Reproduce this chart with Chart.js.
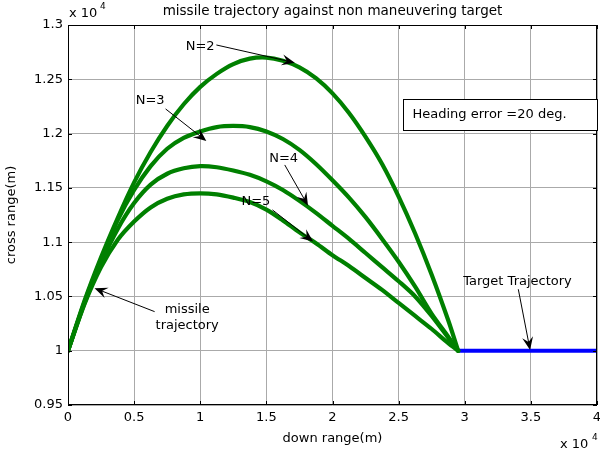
<!DOCTYPE html>
<html><head><meta charset="utf-8">
<script src="https://cdn.jsdelivr.net/npm/chart.js@4.4.0/dist/chart.umd.min.js"></script>
<style>html,body{margin:0;padding:0;background:#fff;}#wrap{width:600px;height:454px;}</style>
</head><body><div id="wrap"><canvas id="c" width="600" height="454"></canvas></div>
<script>
// ---- data (down range and cross range in units of 1e4 m) ----
const downRange = [0, 0.125, 0.25, 0.375, 0.5, 0.625, 0.75, 0.875, 1.0, 1.125, 1.25, 1.375, 1.5,
                   1.625, 1.75, 1.875, 2.0, 2.125, 2.25, 2.375, 2.5, 2.625, 2.75, 2.875, 2.95];
const crossN2 = [1.000, 1.046, 1.086, 1.122, 1.155, 1.183, 1.207, 1.227, 1.243, 1.255, 1.264, 1.269, 1.270,
                 1.267, 1.261, 1.251, 1.237, 1.219, 1.197, 1.172, 1.142, 1.108, 1.070, 1.028, 1.000];
const crossN3 = [1.000, 1.045, 1.084, 1.120, 1.148, 1.170, 1.186, 1.196, 1.202, 1.206, 1.207, 1.206, 1.202,
                 1.195, 1.185, 1.172, 1.157, 1.141, 1.123, 1.103, 1.082, 1.059, 1.034, 1.013, 1.000];
const crossN4 = [1.000, 1.044, 1.081, 1.112, 1.136, 1.153, 1.163, 1.168, 1.170, 1.169, 1.166, 1.162, 1.156,
                 1.148, 1.138, 1.127, 1.115, 1.103, 1.090, 1.077, 1.064, 1.050, 1.032, 1.012, 1.000];
const crossN5 = [1.000, 1.043, 1.077, 1.102, 1.119, 1.132, 1.140, 1.144, 1.145, 1.144, 1.141, 1.137, 1.130,
                 1.120, 1.109, 1.099, 1.088, 1.078, 1.067, 1.056, 1.044, 1.032, 1.020, 1.007, 1.000];
const targetDown = [2.95, 4.0];
const targetCross = [1.0, 1.0];

const xTickValues = [0, 0.5, 1, 1.5, 2, 2.5, 3, 3.5, 4];
const xTickLabels = ['0', '0.5', '1', '1.5', '2', '2.5', '3', '3.5', '4'];
const yTickValues = [0.95, 1.0, 1.05, 1.1, 1.15, 1.2, 1.25, 1.3];
const yTickLabels = ['0.95', '1', '1.05', '1.1', '1.15', '1.2', '1.25', '1.3'];

// annotation texts (data coordinates) and arrows
const noteTexts = ['N=2', 'N=3', 'N=4', 'N=5', 'missile', 'trajectory', 'Target Trajectory'];
const noteX = [0.999, 0.621, 1.631, 1.421, 0.901, 0.901, 3.399];
const noteY = [1.280, 1.230, 1.1773, 1.1373, 1.0376, 1.0228, 1.0636];
const arrowFrom = [[1.122, 1.2816], [0.738, 1.2227], [1.639, 1.1711], [1.546, 1.1297], [0.655, 1.0360], [3.405, 1.0566]];
const arrowTo = [[1.715, 1.2653], [1.046, 1.1932], [1.815, 1.1336], [1.853, 1.1005], [0.2006, 1.0576], [3.494, 1.0007]];
const boxText = 'Heading error =20 deg.';
const boxCorners = [[2.535, 1.2316], [3.999, 1.2033]];

const F = "'DejaVu Sans', sans-serif";
const pts = (xs, ys) => xs.map((v, i) => ({x: v, y: ys[i]}));
const green = 'rgb(0,128,0)';
const curve = (d) => ({data: d, showLine: true, borderColor: green, borderWidth: 4.2, pointRadius: 0, fill: false, tension: 0.3, borderCapStyle: 'round', borderJoinStyle: 'round'});

const overlay = {
  id: 'overlay',
  afterDatasetsDraw(chart) {
    const {ctx, chartArea: a, scales: {x, y}} = chart;
    ctx.save();
    // frame
    ctx.strokeStyle = '#000'; ctx.lineWidth = 1;
    ctx.strokeRect(Math.round(a.left) + 0.5, Math.round(a.top) + 0.5, Math.round(a.right - a.left) - 1, Math.round(a.bottom - a.top) - 1);
    // inward ticks
    ctx.beginPath();
    xTickValues.forEach(v => { const px = Math.round(x.getPixelForValue(v)) + 0.5;
      ctx.moveTo(px, a.bottom); ctx.lineTo(px, a.bottom - 4); ctx.moveTo(px, a.top); ctx.lineTo(px, a.top + 4); });
    yTickValues.forEach(v => { const py = Math.round(y.getPixelForValue(v)) + 0.5;
      ctx.moveTo(a.left, py); ctx.lineTo(a.left + 4, py); ctx.moveTo(a.right, py); ctx.lineTo(a.right - 4, py); });
    ctx.stroke();
    // annotation texts
    ctx.fillStyle = '#000'; ctx.font = '13px ' + F; ctx.textAlign = 'center'; ctx.textBaseline = 'middle';
    noteTexts.forEach((t, i) => ctx.fillText(t, x.getPixelForValue(noteX[i]), y.getPixelForValue(noteY[i])));
    // arrows
    arrowFrom.forEach((f, i) => {
      const x0 = x.getPixelForValue(f[0]), y0 = y.getPixelForValue(f[1]);
      const x1 = x.getPixelForValue(arrowTo[i][0]), y1 = y.getPixelForValue(arrowTo[i][1]);
      const ang = Math.atan2(y1 - y0, x1 - x0), L = 13, W = 5.5;
      ctx.beginPath(); ctx.moveTo(x0, y0); ctx.lineTo(x1 - Math.cos(ang) * 6, y1 - Math.sin(ang) * 6);
      ctx.lineWidth = 1; ctx.strokeStyle = '#000'; ctx.stroke();
      ctx.save(); ctx.translate(x1, y1); ctx.rotate(ang);
      ctx.beginPath(); ctx.moveTo(0, 0); ctx.lineTo(-L, -W); ctx.lineTo(-L * 0.62, 0); ctx.lineTo(-L, W); ctx.closePath();
      ctx.fillStyle = '#000'; ctx.fill(); ctx.restore();
    });
    // boxed note
    const bx0 = Math.round(x.getPixelForValue(boxCorners[0][0])) + 0.5, by0 = Math.round(y.getPixelForValue(boxCorners[0][1])) + 0.5;
    const bx1 = Math.round(x.getPixelForValue(boxCorners[1][0])) + 0.5, by1 = Math.round(y.getPixelForValue(boxCorners[1][1])) + 0.5;
    ctx.fillStyle = '#fff'; ctx.fillRect(bx0, by0, bx1 - bx0, by1 - by0);
    ctx.strokeStyle = '#000'; ctx.lineWidth = 1; ctx.strokeRect(bx0, by0, bx1 - bx0, by1 - by0);
    ctx.fillStyle = '#000'; ctx.textAlign = 'left';
    ctx.fillText(boxText, bx0 + 9, (by0 + by1) / 2);
    // exponent labels
    ctx.font = '13px ' + F; ctx.textAlign = 'left';
    ctx.fillText('x 10', a.left + 1, 14);
    ctx.fillText('x 10', 560, 445);
    ctx.font = '9px ' + F;
    ctx.fillText('4', a.left + 32, 7);
    ctx.fillText('4', 592, 438);
    ctx.restore();
  }
};

new Chart(document.getElementById('c'), {
  type: 'scatter',
  data: {datasets: [
    curve(pts(downRange, crossN2)),
    curve(pts(downRange, crossN3)),
    curve(pts(downRange, crossN4)),
    curve(pts(downRange, crossN5)),
    {data: pts(targetDown, targetCross), showLine: true, borderColor: 'rgb(0,0,255)', borderWidth: 4, pointRadius: 0, fill: false}
  ]},
  options: {
    responsive: false, animation: false, devicePixelRatio: 1,
    layout: {padding: {top: 0, right: 3, bottom: 0, left: 0}},
    plugins: {
      legend: {display: false}, tooltip: {enabled: false},
      title: {display: true, fullSize: false, text: 'missile trajectory against non maneuvering target', color: '#000',
        font: {family: F, size: 13.5, weight: 'normal'}, padding: {top: 3, bottom: 5.8}}
    },
    scales: {
      x: {type: 'linear', min: 0, max: 4,
        afterBuildTicks: s => { s.ticks = xTickValues.map(v => ({value: v})); },
        ticks: {callback: (v, i) => xTickLabels[i], color: '#000', font: {family: F, size: 13}, padding: 5, maxRotation: 0, autoSkip: false},
        grid: {color: '#aaaaaa', drawTicks: false, lineWidth: 1},
        border: {display: false},
        title: {display: true, text: 'down range(m)', color: '#000', font: {family: F, size: 13}, padding: {top: 0, bottom: 8}},
        afterFit: s => { s.height = 49; s.paddingLeft = 0; s.paddingRight = 0; }
      },
      y: {type: 'linear', min: 0.95, max: 1.3,
        afterBuildTicks: s => { s.ticks = yTickValues.map(v => ({value: v})); },
        ticks: {callback: (v, i) => yTickLabels[i], color: '#000', font: {family: F, size: 13}, padding: 5, autoSkip: false},
        grid: {color: '#aaaaaa', drawTicks: false, lineWidth: 1},
        border: {display: false},
        title: {display: true, text: 'cross range(m)', color: '#000', font: {family: F, size: 13}, padding: {top: 4, bottom: 0}},
        afterFit: s => { s.width = 68; s.paddingTop = 0; s.paddingBottom = 0; }
      }
    }
  },
  plugins: [overlay]
});
</script></body></html>
